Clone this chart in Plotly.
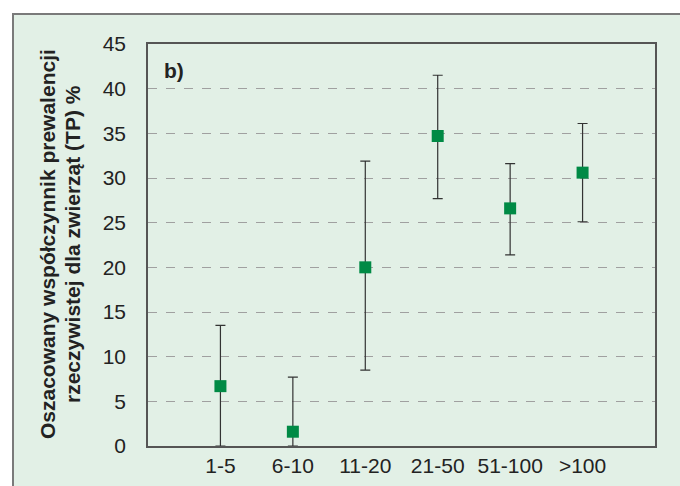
import plotly.graph_objects as go

categories = ["1-5", "6-10", "11-20", "21-50", "51-100", ">100"]
tp_values = [6.7, 1.6, 20.0, 34.7, 26.6, 30.6]
upper_ci = [13.5, 7.7, 31.9, 41.5, 31.6, 36.1]
lower_ci = [0.0, 0.0, 8.5, 27.7, 21.4, 25.1]
y_ticks = [0, 5, 10, 15, 20, 25, 30, 35, 40, 45]

err_plus = [u - v for u, v in zip(upper_ci, tp_values)]
err_minus = [v - l for v, l in zip(tp_values, lower_ci)]

fig = go.Figure()
fig.add_trace(go.Scatter(
    x=list(range(len(categories))), y=tp_values, mode="markers",
    marker=dict(symbol="square", size=12, color="#008a45"),
    error_y=dict(type="data", symmetric=False, array=err_plus, arrayminus=err_minus,
                 color="#333333", thickness=1.2, width=5),
    showlegend=False, cliponaxis=False,
))

W, H = 680, 486
L, R, T, B = 148, 655, 44, 446
pw, ph = R - L, B - T

def px(x):
    return (x - L) / pw

def py(y):
    return (B - y) / ph

fig.add_shape(type="rect", xref="paper", yref="paper",
              x0=px(13), x1=px(700), y0=py(14), y1=py(520),
              fillcolor="#e2f0e6", line=dict(color="#7a7a7a", width=2), layer="below")

fig.add_annotation(text="<b>b)</b>", xref="paper", yref="paper", x=px(162), y=py(70),
                   xanchor="left", yanchor="middle", showarrow=False,
                   font=dict(family="Liberation Sans, Arial", size=21, color="#222222"))

title_lines = ["Oszacowany współczynnik prewalencji", "rzeczywistej dla zwierząt (TP) %"]
for line, xc in zip(title_lines, [48, 73]):
    fig.add_annotation(text="<b>" + line + "</b>",
                       xref="paper", yref="paper", x=px(xc), y=py(244), textangle=-90,
                       xanchor="center", yanchor="middle", showarrow=False,
                       font=dict(family="Liberation Sans, Arial", size=21, color="#222222"))

fig.update_layout(
    width=W, height=H,
    margin=dict(l=L, r=W - R, t=T, b=H - B),
    paper_bgcolor="white", plot_bgcolor="white",
    font=dict(family="Liberation Sans, Arial", size=21, color="#222222"),
)
fig.update_xaxes(range=[-1, 6], tickmode="array", tickvals=list(range(len(categories))),
                 ticktext=categories, showgrid=False, zeroline=False, automargin=False,
                 showline=True, linecolor="#555555", linewidth=1.5, mirror=True,
                 ticks="", ticklen=0, tickfont=dict(size=21))
fig.update_yaxes(range=[0, 45], tickmode="array", tickvals=y_ticks, automargin=False,
                 showgrid=True, gridcolor="#a0a0a0", griddash="dash", gridwidth=1,
                 zeroline=False, showline=True, linecolor="#555555", linewidth=1.5, mirror=True,
                 ticks="", ticklabelstandoff=16, tickfont=dict(size=21))

fig.write_html("out.html", post_script="document.body.style.margin='0';",
               config={"displayModeBar": False})
